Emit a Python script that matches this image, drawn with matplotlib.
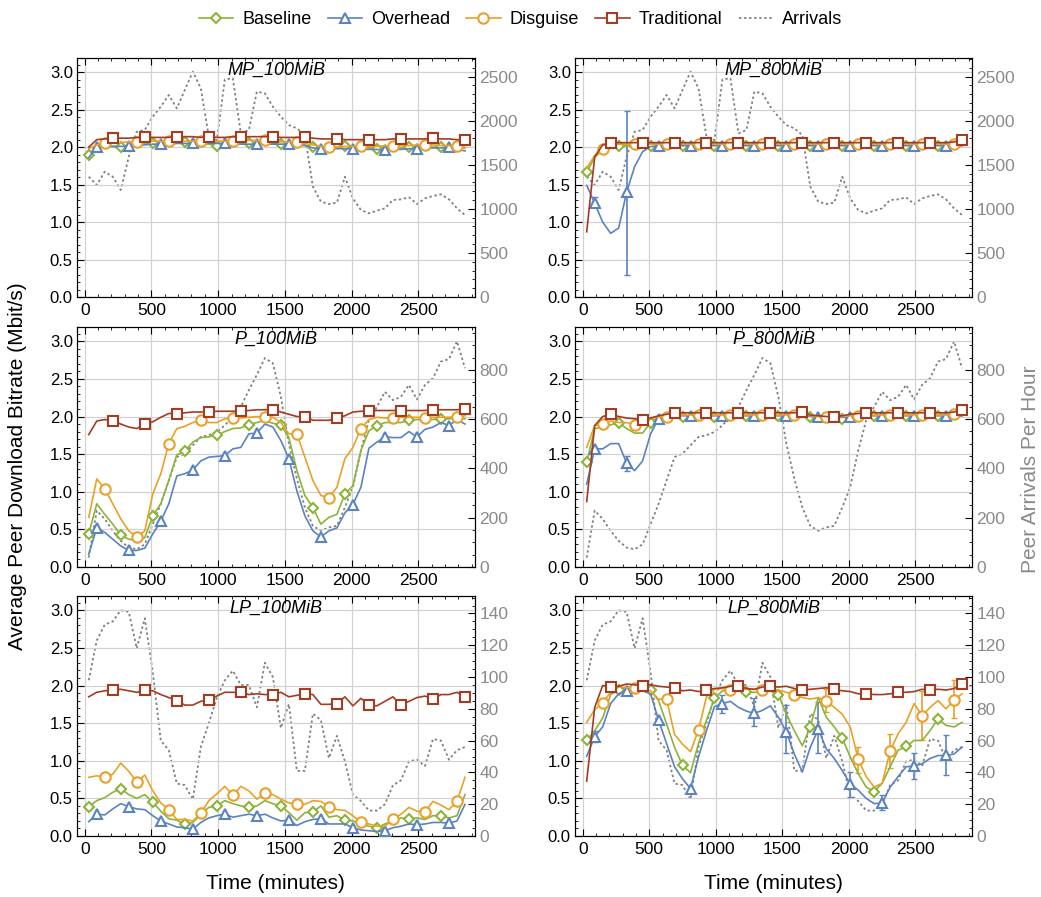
import matplotlib
matplotlib.use("Agg")
import matplotlib.pyplot as plt
import numpy as np
from matplotlib.lines import Line2D
from matplotlib.ticker import AutoMinorLocator, FormatStrFormatter, MultipleLocator

plt.rcParams["font.family"] = ["Liberation Sans", "DejaVu Sans"]

# hourly sample points (minutes)
minutes = np.arange(30, 2880, 60)

# peer arrivals per hour, shared by both file sizes of a swarm
arrivals_mp = [1365, 1271, 1422, 1365, 1214, 1592, 1876, 1895,
               2046, 2160, 2292, 2141, 2349, 2557, 2368, 1819,
               1781, 2470, 2481, 1857, 1895, 2330, 2311, 2160,
               2046, 1951, 1914, 1838, 1252, 1082, 1055, 1070,
               1365, 1119, 987, 949, 980, 1006, 1101, 1108,
               1131, 1055, 1119, 1146, 1165, 1108, 1006, 930]
arrivals_p = [38, 229, 195, 147, 106, 79, 72, 92,
              174, 256, 351, 446, 460, 494, 528, 535,
              548, 575, 610, 650, 718, 780, 848, 827,
              691, 501, 358, 242, 167, 147, 161, 167,
              242, 324, 473, 596, 650, 711, 677, 691,
              739, 680, 739, 766, 834, 844, 916, 807]
arrivals_lp = [98, 123, 133, 135, 142, 141, 118, 137,
               103, 60, 54, 33, 32, 23, 56, 71,
               87, 98, 104, 95, 95, 81, 109, 100,
               68, 83, 41, 41, 77, 73, 49, 63,
               47, 26, 22, 16, 16, 20, 32, 35,
               47, 48, 44, 61, 60, 48, 54, 56]

# MP_100MiB
mp100_baseline = [1.89, 1.98, 2.01, 2.01, 2.00, 2.03, 2.04, 2.05,
                  2.05, 2.05, 2.06, 2.06, 2.07, 2.06, 2.05, 2.04,
                  2.02, 2.03, 2.04, 2.05, 2.05, 2.06, 2.05, 2.05,
                  2.04, 2.04, 2.04, 2.03, 2.00, 1.99, 1.99, 2.00,
                  2.01, 2.00, 1.99, 1.99, 1.98, 1.99, 1.99, 1.99,
                  2.00, 2.00, 2.00, 2.00, 2.00, 2.00, 2.00, 1.99]
mp100_overhead = [1.86, 2.00, 2.01, 2.01, 2.01, 2.01, 2.02, 2.03,
                  2.04, 2.04, 2.04, 2.05, 2.05, 2.05, 2.05, 2.05,
                  2.05, 2.05, 2.05, 2.04, 2.04, 2.04, 2.04, 2.04,
                  2.04, 2.04, 2.03, 2.02, 1.99, 1.98, 1.98, 1.98,
                  1.98, 1.98, 1.97, 1.97, 1.97, 1.96, 1.97, 1.97,
                  1.98, 1.98, 1.98, 1.99, 1.99, 2.00, 1.97, 1.95]
mp100_disguise = [1.98, 2.03, 2.05, 2.06, 2.06, 2.07, 2.07, 2.07,
                  2.08, 2.08, 2.08, 2.08, 2.08, 2.08, 2.08, 2.08,
                  2.08, 2.08, 2.08, 2.09, 2.09, 2.09, 2.09, 2.08,
                  2.07, 2.07, 2.07, 2.05, 2.03, 2.01, 2.00, 2.00,
                  2.01, 2.01, 2.01, 2.01, 2.01, 2.02, 2.01, 2.02,
                  2.02, 2.03, 2.03, 2.03, 2.02, 2.02, 2.02, 2.02]
mp100_traditional = [2.00, 2.10, 2.11, 2.12, 2.12, 2.12, 2.13, 2.13,
                     2.13, 2.13, 2.13, 2.14, 2.14, 2.14, 2.13, 2.14,
                     2.13, 2.13, 2.14, 2.13, 2.14, 2.14, 2.14, 2.14,
                     2.13, 2.13, 2.13, 2.13, 2.12, 2.11, 2.11, 2.11,
                     2.10, 2.10, 2.10, 2.10, 2.10, 2.10, 2.11, 2.11,
                     2.11, 2.11, 2.11, 2.12, 2.11, 2.11, 2.10, 2.10]

# MP_800MiB
mp800_baseline = [1.67, 1.86, 1.97, 2.01, 2.01, 2.02, 2.02, 2.02,
                  2.02, 2.02, 2.02, 2.02, 2.02, 2.02, 2.02, 2.02,
                  2.02, 2.02, 2.02, 2.02, 2.02, 2.02, 2.02, 2.02,
                  2.02, 2.02, 2.02, 2.02, 2.02, 2.02, 2.02, 2.02,
                  2.02, 2.02, 2.02, 2.02, 2.02, 2.02, 2.02, 2.02,
                  2.02, 2.02, 2.02, 2.02, 2.02, 2.02, 2.02, 2.02]
mp800_overhead = [1.49, 1.25, 1.00, 0.85, 0.92, 1.40, 1.74, 1.94,
                  2.01, 2.01, 2.02, 2.02, 2.02, 2.02, 2.02, 2.02,
                  2.02, 2.02, 2.02, 2.02, 2.02, 2.02, 2.02, 2.02,
                  2.02, 2.02, 2.02, 2.02, 2.02, 2.02, 2.02, 2.02,
                  2.02, 2.02, 2.02, 2.02, 2.02, 2.02, 2.02, 2.02,
                  2.02, 2.02, 2.02, 2.02, 2.02, 2.02, 2.02, 2.02]
mp800_disguise = [1.72, 1.89, 1.98, 2.03, 2.04, 2.04, 2.04, 2.04,
                  2.04, 2.04, 2.04, 2.04, 2.04, 2.04, 2.04, 2.04,
                  2.04, 2.04, 2.04, 2.04, 2.04, 2.04, 2.04, 2.04,
                  2.04, 2.04, 2.04, 2.04, 2.04, 2.04, 2.04, 2.04,
                  2.04, 2.04, 2.04, 2.04, 2.04, 2.04, 2.04, 2.04,
                  2.04, 2.04, 2.04, 2.04, 2.04, 2.04, 2.04, 2.04]
mp800_traditional = [0.87, 1.87, 2.03, 2.06, 2.06, 2.06, 2.06, 2.06,
                     2.06, 2.06, 2.06, 2.06, 2.06, 2.06, 2.06, 2.06,
                     2.06, 2.06, 2.06, 2.06, 2.06, 2.06, 2.06, 2.06,
                     2.06, 2.06, 2.06, 2.06, 2.06, 2.06, 2.06, 2.06,
                     2.06, 2.06, 2.06, 2.06, 2.06, 2.06, 2.06, 2.06,
                     2.06, 2.06, 2.06, 2.06, 2.06, 2.06, 2.07, 2.09]

# P_100MiB
p100_baseline = [0.44, 0.84, 0.70, 0.57, 0.42, 0.37, 0.35, 0.39,
                 0.68, 0.84, 1.15, 1.49, 1.54, 1.66, 1.72, 1.73,
                 1.75, 1.80, 1.84, 1.85, 1.89, 1.92, 1.95, 1.91,
                 1.89, 1.72, 1.28, 0.95, 0.79, 0.57, 0.66, 0.70,
                 0.97, 1.08, 1.55, 1.81, 1.88, 1.92, 1.92, 1.92,
                 1.95, 1.96, 1.96, 1.96, 1.97, 1.97, 1.98, 1.97]
p100_overhead = [0.17, 0.52, 0.46, 0.37, 0.28, 0.22, 0.22, 0.25,
                 0.44, 0.61, 0.84, 1.21, 1.24, 1.29, 1.41, 1.46,
                 1.47, 1.48, 1.57, 1.59, 1.77, 1.78, 1.90, 1.86,
                 1.68, 1.44, 1.01, 0.68, 0.48, 0.40, 0.48, 0.52,
                 0.72, 0.83, 1.06, 1.58, 1.66, 1.73, 1.72, 1.72,
                 1.80, 1.73, 1.83, 1.86, 1.92, 1.88, 1.96, 1.90]
p100_disguise = [0.66, 1.17, 1.04, 0.84, 0.64, 0.48, 0.40, 0.48,
                 0.97, 1.24, 1.64, 1.84, 1.87, 1.92, 1.95, 1.92,
                 1.92, 1.97, 1.98, 1.98, 1.99, 2.00, 1.99, 1.99,
                 1.92, 1.77, 1.77, 1.46, 1.15, 0.95, 0.92, 1.06,
                 1.44, 1.59, 1.84, 1.96, 1.99, 1.98, 1.98, 1.99,
                 1.99, 1.99, 1.98, 1.99, 1.99, 1.99, 2.00, 2.01]
p100_traditional = [1.76, 1.94, 1.96, 1.94, 1.90, 1.86, 1.84, 1.90,
                    1.93, 1.99, 2.04, 2.04, 2.05, 2.06, 2.06, 2.06,
                    2.07, 2.07, 2.07, 2.07, 2.08, 2.09, 2.09, 2.09,
                    2.06, 2.03, 2.00, 2.00, 1.95, 1.95, 1.95, 1.98,
                    2.01, 2.06, 2.07, 2.07, 2.08, 2.08, 2.08, 2.08,
                    2.08, 2.08, 2.08, 2.09, 2.09, 2.09, 2.09, 2.10]

# P_800MiB
p800_baseline = [1.39, 1.84, 1.86, 1.89, 1.92, 1.84, 1.78, 1.78,
                 1.92, 1.99, 2.00, 2.00, 1.99, 2.01, 2.01, 2.01,
                 2.00, 2.01, 2.01, 2.01, 2.01, 2.01, 2.01, 2.01,
                 2.01, 2.01, 2.01, 2.00, 2.00, 1.99, 1.98, 1.97,
                 1.97, 1.99, 2.00, 2.01, 2.01, 2.01, 2.01, 2.01,
                 2.01, 2.01, 2.01, 2.01, 2.01, 2.01, 2.01, 2.01]
p800_overhead = [1.10, 1.57, 1.57, 1.64, 1.64, 1.38, 1.28, 1.41,
                 1.77, 1.97, 2.00, 2.01, 2.01, 2.01, 2.01, 2.01,
                 2.01, 2.01, 2.01, 2.01, 2.01, 2.01, 2.01, 2.01,
                 2.01, 2.01, 2.01, 2.01, 2.00, 1.99, 1.99, 1.99,
                 1.99, 1.99, 2.00, 2.01, 2.01, 2.01, 2.01, 2.01,
                 2.01, 2.01, 2.01, 2.01, 2.01, 2.01, 2.01, 2.01]
p800_disguise = [1.59, 1.88, 1.90, 1.94, 1.92, 1.92, 1.89, 1.92,
                 1.97, 2.00, 1.99, 2.01, 2.02, 2.02, 2.02, 2.02,
                 2.02, 2.02, 2.02, 2.02, 2.02, 2.02, 2.02, 2.02,
                 2.02, 2.02, 2.02, 2.02, 2.01, 2.00, 2.00, 2.00,
                 2.00, 2.01, 2.01, 2.02, 2.02, 2.02, 2.02, 2.02,
                 2.02, 2.02, 2.02, 2.02, 2.02, 2.02, 2.03, 2.03]
p800_traditional = [0.87, 1.88, 2.00, 2.03, 2.00, 1.98, 1.97, 1.96,
                    1.98, 2.01, 2.03, 2.05, 2.05, 2.05, 2.05, 2.05,
                    2.05, 2.05, 2.05, 2.05, 2.05, 2.05, 2.05, 2.05,
                    2.05, 2.05, 2.05, 2.06, 2.02, 2.01, 2.00, 2.00,
                    2.01, 2.03, 2.04, 2.05, 2.05, 2.05, 2.05, 2.05,
                    2.05, 2.05, 2.05, 2.05, 2.05, 2.05, 2.06, 2.09]

# LP_100MiB
lp100_baseline = [0.39, 0.47, 0.51, 0.58, 0.63, 0.55, 0.50, 0.55,
                  0.45, 0.33, 0.23, 0.21, 0.16, 0.18, 0.29, 0.38,
                  0.40, 0.47, 0.43, 0.40, 0.38, 0.40, 0.47, 0.43,
                  0.40, 0.31, 0.21, 0.31, 0.32, 0.40, 0.25, 0.27,
                  0.21, 0.20, 0.16, 0.13, 0.11, 0.16, 0.20, 0.24,
                  0.23, 0.24, 0.22, 0.27, 0.27, 0.24, 0.27, 0.55]
lp100_overhead = [0.19, 0.29, 0.28, 0.36, 0.43, 0.39, 0.36, 0.35,
                  0.27, 0.20, 0.16, 0.12, 0.11, 0.09, 0.18, 0.24,
                  0.27, 0.29, 0.25, 0.27, 0.29, 0.27, 0.29, 0.24,
                  0.20, 0.21, 0.14, 0.19, 0.22, 0.23, 0.16, 0.16,
                  0.16, 0.11, 0.08, 0.07, 0.06, 0.07, 0.11, 0.13,
                  0.16, 0.15, 0.16, 0.18, 0.18, 0.17, 0.20, 0.42]
lp100_disguise = [0.78, 0.80, 0.78, 0.82, 0.97, 0.86, 0.72, 0.81,
                  0.60, 0.44, 0.35, 0.22, 0.22, 0.20, 0.30, 0.47,
                  0.56, 0.66, 0.54, 0.66, 0.60, 0.49, 0.57, 0.55,
                  0.49, 0.44, 0.42, 0.42, 0.47, 0.46, 0.39, 0.35,
                  0.34, 0.27, 0.18, 0.16, 0.13, 0.13, 0.22, 0.29,
                  0.38, 0.33, 0.32, 0.46, 0.41, 0.35, 0.46, 0.78]
lp100_traditional = [1.85, 1.91, 1.93, 1.94, 1.95, 1.93, 1.91, 1.94,
                     1.93, 1.88, 1.84, 1.80, 1.74, 1.74, 1.79, 1.81,
                     1.86, 1.91, 1.91, 1.91, 1.88, 1.89, 1.88, 1.88,
                     1.91, 1.85, 1.87, 1.89, 1.88, 1.75, 1.75, 1.76,
                     1.85, 1.73, 1.83, 1.74, 1.73, 1.79, 1.85, 1.74,
                     1.79, 1.84, 1.86, 1.82, 1.88, 1.88, 1.91, 1.85]

# LP_800MiB
lp800_baseline = [1.27, 1.40, 1.57, 1.88, 1.94, 1.98, 1.96, 1.97,
                  1.94, 1.80, 1.49, 1.18, 0.94, 0.84, 1.23, 1.54,
                  1.83, 1.93, 1.93, 1.93, 1.91, 1.91, 1.91, 1.93,
                  1.88, 1.62, 1.40, 1.20, 1.45, 1.84, 1.58, 1.45,
                  1.30, 1.05, 0.83, 0.65, 0.59, 0.70, 0.92, 1.14,
                  1.19, 1.27, 1.27, 1.40, 1.56, 1.47, 1.45, 1.51]
lp800_overhead = [1.06, 1.32, 1.45, 1.76, 1.89, 1.93, 1.93, 1.93,
                  1.89, 1.54, 1.23, 0.92, 0.76, 0.63, 1.05, 1.40,
                  1.72, 1.76, 1.79, 1.71, 1.66, 1.63, 1.67, 1.73,
                  1.58, 1.38, 1.09, 0.85, 1.18, 1.42, 1.16, 1.03,
                  0.87, 0.69, 0.61, 0.50, 0.43, 0.44, 0.65, 0.79,
                  0.92, 0.93, 0.96, 1.03, 1.07, 1.07, 1.09, 1.18]
lp800_disguise = [1.51, 1.68, 1.77, 1.91, 1.98, 1.97, 1.97, 1.96,
                  1.93, 1.82, 1.82, 1.35, 1.22, 1.12, 1.41, 1.85,
                  1.95, 1.96, 1.94, 1.96, 1.95, 1.95, 1.94, 1.95,
                  1.94, 1.91, 1.88, 1.84, 1.82, 1.84, 1.79, 1.71,
                  1.62, 1.45, 1.02, 0.79, 0.65, 0.70, 1.13, 1.36,
                  1.51, 1.76, 1.60, 1.71, 1.80, 1.69, 1.81, 1.89]
lp800_traditional = [0.73, 1.71, 2.00, 1.98, 1.99, 2.02, 2.01, 1.99,
                     2.01, 1.99, 1.98, 1.97, 1.93, 1.94, 1.92, 1.94,
                     1.96, 1.97, 1.99, 2.00, 1.96, 1.95, 1.98, 1.99,
                     1.98, 1.99, 1.96, 1.94, 1.95, 1.96, 1.97, 1.95,
                     1.93, 1.92, 1.89, 1.89, 1.88, 1.88, 1.89, 1.91,
                     1.91, 1.92, 1.95, 1.94, 1.95, 1.94, 1.96, 2.02]

# error bars: (sample index, low, high)
mp800_overhead_err = [(1, 1.20, 1.34), (5, 0.30, 2.48)]
p800_overhead_err = [(5, 1.28, 1.48)]
lp800_overhead_err = [(1, 1.25, 1.39), (17, 1.63, 1.87), (21, 1.46, 1.84),
                      (25, 1.10, 1.74), (29, 1.10, 1.78), (33, 0.52, 0.85),
                      (37, 0.35, 0.54), (41, 0.76, 1.10), (45, 0.81, 1.34)]
lp800_disguise_err = [(26, 1.83, 1.93), (30, 1.65, 1.95), (34, 0.84, 1.18),
                      (38, 0.90, 1.35), (42, 1.27, 1.93), (46, 1.57, 2.07)]

series_names = ["Baseline", "Overhead", "Disguise", "Traditional"]
colors = {"Baseline": "#8CB33A", "Overhead": "#5A83C0",
          "Disguise": "#E9A128", "Traditional": "#A43C22"}
markers = {"Baseline": ("D", 5.5), "Overhead": ("^", 7.5),
           "Disguise": ("o", 7.5), "Traditional": ("s", 7)}
arrival_color = "#7f7f7f"
arrival_style = (0, (1.3, 1.5))

panels = [
    ("MP_100MiB", arrivals_mp, 2712, 500,
     [mp100_baseline, mp100_overhead, mp100_disguise, mp100_traditional], {}),
    ("MP_800MiB", arrivals_mp, 2712, 500,
     [mp800_baseline, mp800_overhead, mp800_disguise, mp800_traditional],
     {"Overhead": mp800_overhead_err}),
    ("P_100MiB", arrivals_p, 974, 200,
     [p100_baseline, p100_overhead, p100_disguise, p100_traditional], {}),
    ("P_800MiB", arrivals_p, 974, 200,
     [p800_baseline, p800_overhead, p800_disguise, p800_traditional],
     {"Overhead": p800_overhead_err}),
    ("LP_100MiB", arrivals_lp, 151, 20,
     [lp100_baseline, lp100_overhead, lp100_disguise, lp100_traditional], {}),
    ("LP_800MiB", arrivals_lp, 151, 20,
     [lp800_baseline, lp800_overhead, lp800_disguise, lp800_traditional],
     {"Overhead": lp800_overhead_err, "Disguise": lp800_disguise_err}),
]

W, H = 1041, 897
fig = plt.figure(figsize=(W / 100, H / 100), dpi=100)

col_px = [(77, 475), (575, 972)]
row_px = [(58, 297), (327, 567), (596, 836)]

for i, (name, arrivals, right_top, right_step, values, errors) in enumerate(panels):
    row, col = divmod(i, 2)
    x0, x1 = col_px[col]
    y0, y1 = row_px[row]
    ax = fig.add_axes([x0 / W, 1 - y1 / H, (x1 - x0) / W, (y1 - y0) / H])
    ax2 = ax.twinx()
    ax.set_zorder(ax2.get_zorder() + 1)
    ax.patch.set_visible(False)

    ax2.plot(minutes, arrivals, color=arrival_color, ls=arrival_style, lw=1.3)
    ax2.set_ylim(0, right_top)
    ax2.yaxis.set_major_locator(MultipleLocator(right_step))
    ax2.yaxis.set_minor_locator(AutoMinorLocator())
    ax2.tick_params(axis="y", which="both", direction="in", labelcolor="#8a8a8a",
                    labelsize=12.5, pad=3)
    ax2.tick_params(axis="y", which="major", length=5)
    ax2.tick_params(axis="y", which="minor", length=2.5)

    for offset, (label, vals) in enumerate(zip(series_names, values)):
        c = colors[label]
        m, ms = markers[label]
        if label in errors:
            idx = [e[0] for e in errors[label]]
            yv = np.array([vals[k] for k in idx])
            lo = np.array([e[1] for e in errors[label]])
            hi = np.array([e[2] for e in errors[label]])
            ax.errorbar(minutes[idx], yv, yerr=[yv - lo, hi - yv], fmt="none",
                        ecolor=c, elinewidth=1.2, capsize=2.5, capthick=1.0, zorder=2)
        ax.plot(minutes, vals, color=c, lw=1.2, marker=m, ms=ms, mfc="white",
                mec=c, mew=1.5, markevery=slice(offset, None, 4), zorder=3 + offset)

    ax.set_xlim(-58, 2925)
    ax.set_ylim(0, 3.19)
    ax.xaxis.set_major_locator(MultipleLocator(500))
    ax.xaxis.set_minor_locator(MultipleLocator(100))
    ax.yaxis.set_major_locator(MultipleLocator(0.5))
    ax.yaxis.set_minor_locator(MultipleLocator(0.1))
    ax.yaxis.set_major_formatter(FormatStrFormatter("%.1f"))
    ax.tick_params(which="both", direction="in", top=True, right=False)
    ax.tick_params(which="major", length=5)
    ax.tick_params(which="minor", length=2.5)
    ax.tick_params(axis="y", labelsize=12, pad=3)
    ax.tick_params(axis="x", labelsize=12.5, pad=4)
    ax.grid(True, which="major", color="#d2d2d2", lw=0.9)
    ax.set_axisbelow(True)
    ax.text(0.5, 0.985, name, transform=ax.transAxes, ha="center", va="top",
            fontsize=13, style="italic")

fig.text(18 / W, 1 - 466 / H, "Average Peer Download Bitrate (Mbit/s)",
         rotation=90, ha="center", va="center", fontsize=15)
fig.text(1030 / W, 1 - 469 / H, "Peer Arrivals Per Hour", rotation=90,
         ha="center", va="center", fontsize=15, color="#8a8a8a")
for xc in (275, 773):
    fig.text(xc / W, 1 - 883 / H, "Time (minutes)", ha="center", va="center",
             fontsize=15)

handles = []
for label in series_names:
    m, ms = markers[label]
    handles.append(Line2D([], [], color=colors[label], lw=1.2, marker=m, ms=ms,
                          mfc="white", mec=colors[label], mew=1.5))
handles.append(Line2D([], [], color=arrival_color, ls=arrival_style, lw=1.3))
fig.legend(handles, series_names + ["Arrivals"], loc="upper center",
           bbox_to_anchor=(0.5, 1.006), ncol=5, frameon=False, fontsize=13,
           handlelength=1.9, handletextpad=0.5, columnspacing=0.9)

fig.savefig("out.png", dpi=100)
